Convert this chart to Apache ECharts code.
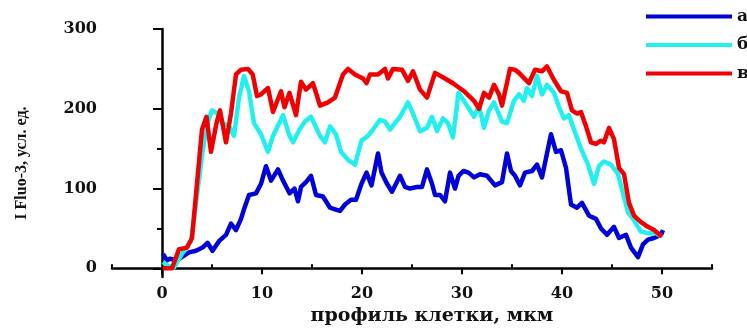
<!DOCTYPE html>
<html>
<head>
<meta charset="utf-8">
<title>Fluo-3</title>
<script src="https://cdn.jsdelivr.net/npm/echarts@6/dist/echarts.min.js"></script>
<style>
	html, body { margin: 0; padding: 0; background: #fff; }
	#chart { width: 747px; height: 331px; }
</style>
</head>
<body>
<div id="chart"></div>
<script>
// кривая а
var aX = [0.1, 0.5, 0.8, 1.5, 2.2, 2.7, 3.4, 4.05, 4.55, 5.05, 5.7, 6.4, 6.9, 7.4, 7.9, 8.2, 8.7, 9.4, 9.9, 10.4, 10.9, 11.6, 12.1, 12.75, 13.25, 13.6, 13.9, 14.4, 14.9, 15.4, 16.1, 16.8, 17.3, 17.8, 18.3, 18.9, 19.4, 19.95, 20.45, 20.95, 21.6, 21.95, 22.5, 23.0, 23.8, 24.3, 24.8, 25.5, 26.0, 26.5, 27.0, 27.3, 27.8, 28.3, 28.8, 29.3, 29.65, 30.15, 30.65, 31.2, 31.8, 32.5, 33.3, 34.0, 34.5, 34.9, 35.3, 35.8, 36.3, 37.0, 37.5, 38.0, 38.9, 39.4, 39.9, 40.4, 40.9, 41.5, 42.0, 42.7, 43.4, 43.9, 44.5, 45.2, 45.7, 46.4, 46.9, 47.6, 48.1, 48.6, 49.2, 49.9, 50.1];
var aY = [18, 10, 12, 10, 16, 20, 22, 26, 32, 22, 34, 42, 56, 48, 62, 74, 92, 94, 106, 128, 110, 124, 110, 94, 100, 84, 102, 108, 116, 92, 90, 76, 74, 72, 80, 86, 86, 106, 120, 104, 144, 120, 106, 96, 116, 102, 100, 102, 102, 124, 106, 92, 92, 84, 120, 100, 116, 122, 120, 114, 118, 116, 104, 108, 144, 122, 116, 104, 120, 122, 130, 114, 168, 146, 148, 126, 80, 76, 82, 66, 62, 50, 42, 52, 38, 42, 26, 14, 30, 36, 38, 42, 48];

// кривая б
var bX = [0.1, 0.5, 1.2, 2.0, 2.9, 3.4, 4.05, 4.55, 5.0, 5.55, 6.05, 6.7, 7.2, 7.7, 8.2, 8.7, 9.2, 9.9, 10.6, 11.1, 12.1, 12.75, 13.1, 13.75, 14.3, 14.9, 15.8, 16.3, 16.8, 17.4, 17.9, 18.6, 19.3, 19.95, 20.6, 21.1, 21.8, 22.3, 22.8, 23.3, 23.8, 24.6, 25.1, 25.8, 26.5, 27.0, 27.5, 28.1, 28.6, 29.1, 29.65, 30.3, 31.2, 31.7, 32.2, 32.7, 33.2, 34.0, 34.5, 35.2, 35.7, 36.2, 36.5, 37.0, 37.5, 38.0, 38.5, 39.2, 39.7, 40.2, 40.7, 41.2, 41.9, 42.6, 43.2, 43.7, 44.2, 44.9, 45.6, 46.1, 46.6, 47.1, 47.9, 48.7, 49.4, 50.0];
var bY = [8, 4, 1, 18, 34, 82, 146, 182, 198, 194, 182, 178, 166, 214, 241, 222, 182, 168, 146, 166, 192, 166, 158, 174, 184, 190, 166, 158, 178, 168, 146, 136, 130, 160, 166, 174, 186, 184, 174, 182, 190, 208, 194, 172, 176, 190, 172, 188, 182, 164, 220, 208, 190, 204, 176, 198, 208, 184, 182, 210, 218, 210, 226, 216, 241, 218, 230, 220, 202, 188, 192, 174, 150, 130, 106, 128, 134, 130, 118, 94, 70, 62, 46, 44, 44, 40];

// кривая в
var vX = [0.1, 1.0, 1.7, 2.5, 3.0, 3.5, 4.0, 4.45, 4.9, 5.45, 5.8, 6.4, 6.9, 7.4, 7.9, 8.6, 9.07, 9.5, 9.9, 10.6, 11.1, 11.9, 12.25, 12.75, 13.4, 13.9, 14.4, 15.1, 15.8, 16.6, 17.3, 18.1, 18.6, 19.3, 20.1, 20.45, 20.8, 21.6, 22.3, 22.6, 23.1, 24.0, 24.6, 25.1, 25.8, 26.5, 27.3, 28.3, 29.1, 30.2, 31.2, 31.7, 32.2, 32.7, 33.2, 33.7, 34.0, 34.8, 35.3, 35.7, 36.7, 37.3, 38.0, 38.5, 39.2, 39.9, 40.5, 41.0, 41.5, 41.9, 42.4, 42.9, 43.4, 43.9, 44.2, 44.7, 45.2, 45.7, 46.2, 46.7, 47.2, 47.9, 48.6, 49.2, 50.0];
var vY = [0, 0, 24, 26, 38, 106, 174, 190, 146, 182, 198, 158, 194, 243, 249, 250, 243, 216, 218, 226, 196, 222, 202, 220, 192, 234, 224, 232, 204, 208, 214, 243, 250, 243, 238, 232, 243, 243, 250, 238, 250, 249, 235, 247, 224, 214, 245, 238, 232, 222, 210, 200, 220, 214, 230, 218, 204, 250, 249, 245, 232, 249, 247, 253, 236, 222, 220, 198, 194, 196, 178, 158, 156, 160, 158, 176, 162, 126, 118, 82, 66, 58, 52, 48, 40];

var seriesNames = ['а', 'б', 'в'];
var seriesColors = ['#0000d8', '#22f0f0', '#f00000'];

var xLabels = [0, 10, 20, 30, 40, 50];
var xMinor = [-5, 5, 15, 25, 35, 45, 55];
var yLabels = [0, 100, 200, 300];
var yMinor = [50, 150, 250];

var main = {
	el: 'chart',
	font: 'DejaVu Serif',
	init: function() {
		var chart = echarts.init(document.getElementById(this.el));
		chart.setOption(this.buildOption());
	},
	pairs: function(xs, ys) {
		var out = [];
		for (var i = 0; i < xs.length; i++) {
			out.push([xs[i], ys[i]]);
		}
		return out;
	},
	buildOption: function() {
		var self = this;
		var axisLine = { show: true, lineStyle: { color: '#000', width: 2.5 } };
		var labelStyle = { color: '#111', fontFamily: self.font, fontWeight: 'bold', fontSize: 16 };
		var xs = [aX, bX, vX];
		var ys = [aY, bY, vY];
		var series = [];
		for (var i = 0; i < 3; i++) {
			series.push({
				name: seriesNames[i],
				type: 'line',
				symbol: 'none',
				z: 3 + i,
				data: self.pairs(xs[i], ys[i]),
				lineStyle: { color: seriesColors[i], width: 4.5, join: 'round' },
				itemStyle: { color: seriesColors[i] }
			});
		}
		return {
			animation: false,
			backgroundColor: '#fff',
			grid: { left: 112, right: 35, top: 29, bottom: 44 },
			legend: {
				left: 641,
				top: 3,
				orient: 'vertical',
				icon: 'rect',
				itemWidth: 86,
				itemHeight: 4,
				itemGap: 11.5,
				data: seriesNames,
				textStyle: { color: '#111', fontFamily: self.font, fontWeight: 'bold', fontSize: 17, lineHeight: 14 }
			},
			xAxis: [{
				type: 'value',
				min: -5,
				max: 55,
				name: 'профиль клетки, мкм',
				nameLocation: 'middle',
				nameGap: 27,
				nameTextStyle: { color: '#111', fontFamily: self.font, fontWeight: 'bold', fontSize: 19, padding: [0, 0, 0, 40] },
				axisLine: axisLine,
				splitLine: { show: false },
				axisTick: { customValues: xLabels, length: 6, lineStyle: { color: '#000', width: 2 } },
				axisLabel: Object.assign({ customValues: xLabels, margin: 9 }, labelStyle)
			}, {
				type: 'value',
				min: -5,
				max: 55,
				axisLine: { show: false },
				splitLine: { show: false },
				axisTick: { customValues: xMinor, length: 4, lineStyle: { color: '#000', width: 2 } },
				axisLabel: { show: false }
			}],
			yAxis: [{
				type: 'value',
				min: -11,
				max: 300,
				name: 'I Fluo-3, усл. ед.',
				nameLocation: 'middle',
				nameGap: 82,
				nameTextStyle: { color: '#111', fontFamily: 'Liberation Serif', fontWeight: 'bold', fontSize: 16, padding: [0, 20, 0, 0] },
				axisLine: axisLine,
				splitLine: { show: false },
				axisTick: { customValues: yLabels, length: 9, lineStyle: { color: '#000', width: 2 } },
				axisLabel: Object.assign({ customValues: yLabels, margin: 15 }, labelStyle)
			}, {
				type: 'value',
				position: 'left',
				min: -11,
				max: 300,
				axisLine: { show: false },
				splitLine: { show: false },
				axisTick: { show: true, customValues: yMinor, length: 5, lineStyle: { color: '#000', width: 2 } },
				axisLabel: { show: false }
			}],
			series: series
		};
	}
};

main.init();
</script>
</body>
</html>
